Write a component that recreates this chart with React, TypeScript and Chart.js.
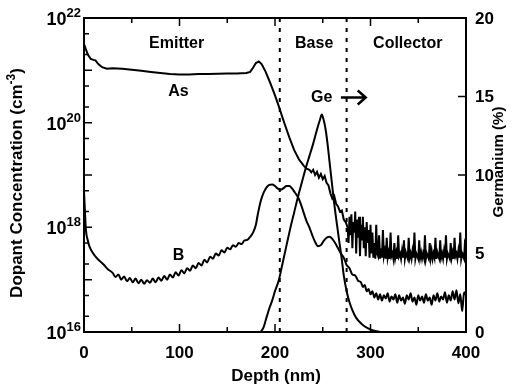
import React, { useEffect, useRef } from "react";
import { Chart, registerables } from "chart.js";

Chart.register(...registerables);

// ---- Data (depth in nm) ----
// Arsenic: log10 of concentration (cm^-3)
const asDepth = [
  0, 2, 4, 7, 10, 12, 15, 19, 24, 30, 40, 50, 60, 70, 80, 90, 100, 110, 120, 130,
  140, 150, 160, 170, 174, 177, 180, 183, 186, 190, 195, 200, 204, 210, 215, 220, 225, 230, 233, 236,
  238, 240, 242, 244, 246, 248, 250, 252, 254, 256, 258, 260, 262, 264, 266, 268, 270, 272, 274, 275,
  276, 277, 278, 279, 280, 281, 282, 283, 284, 285, 286, 287, 288, 289, 290, 291, 292, 293, 294, 295, 296, 297, 298, 299, 300,
  301, 302, 303, 304, 305, 306, 307, 308, 309, 310, 311, 312, 313, 314, 315, 316, 317, 318, 319, 320, 321, 322, 323, 324, 325,
  326, 327, 328, 329, 330, 331, 332, 333, 334, 335, 336, 337, 338, 339, 340, 341, 342, 343, 344, 345, 346, 347, 348, 349, 350,
  351, 352, 353, 354, 355, 356, 357, 358, 359, 360, 361, 362, 363, 364, 365, 366, 367, 368, 369, 370, 371, 372, 373, 374, 375,
  376, 377, 378, 379, 380, 381, 382, 383, 384, 385, 386, 387, 388, 389, 390, 391, 392, 393, 394, 395, 396, 397, 398, 399, 400,
];
const asLogConc = [
  21.5, 21.4, 21.3, 21.22, 21.2, 21.19, 21.12, 21.06, 21.03, 21.04, 21.03, 21.01, 20.99, 20.97, 20.95, 20.93, 20.92, 20.92, 20.93, 20.93,
  20.935, 20.94, 20.94, 20.95, 20.97, 21.05, 21.14, 21.17, 21.12, 20.98, 20.76, 20.52, 20.31, 19.98, 19.72, 19.48, 19.3, 19.18, 19.12, 19.1,
  19.05, 19.1, 19.0, 19.06, 18.95, 19.02, 18.92, 18.98, 18.85, 18.8, 18.65, 18.55, 18.6, 18.45, 18.4, 18.3, 18.32, 18.15, 18.1, 18.05,
  18.0, 17.7, 18.2, 17.85, 18.25, 17.6, 18.1, 17.9, 18.3, 17.5, 18.15, 17.8, 18.2, 17.45, 18.05, 17.75, 18.2, 17.6, 18.0, 17.45, 18.1, 17.7, 17.95, 17.42, 18.05,
  17.5, 17.9, 17.42, 17.7, 17.4, 18.05, 17.5, 17.45, 17.85, 17.4, 17.6, 17.42, 17.95, 17.45, 17.55, 17.4, 17.8, 17.42, 17.52, 17.4, 17.9, 17.45, 17.5, 17.4, 17.7,
  17.42, 17.52, 17.4, 17.85, 17.45, 17.5, 17.4, 17.55, 17.42, 17.75, 17.4, 17.52, 17.45, 17.4, 17.8, 17.42, 17.5, 17.4, 17.55, 17.42, 17.9, 17.4, 17.5, 17.45, 17.4,
  17.75, 17.42, 17.52, 17.4, 17.5, 17.42, 17.85, 17.4, 17.5, 17.45, 17.4, 17.7, 17.42, 17.55, 17.4, 17.5, 17.42, 17.8, 17.4, 17.52, 17.45, 17.4, 17.75, 17.42, 17.5,
  17.4, 17.55, 17.42, 17.85, 17.4, 17.5, 17.45, 17.4, 17.7, 17.42, 17.52, 17.4, 17.8, 17.45, 17.5, 17.4, 17.55, 17.42, 17.9, 17.4, 17.5, 17.45, 17.4, 17.75, 17.8,
];

// Boron: log10 of concentration (cm^-3)
const bDepth = [
  0, 1, 2, 4, 6, 9, 13, 17, 21, 25,
  30, 33, 36, 39, 42, 45, 48, 51, 54, 57, 60, 63, 66, 69, 72, 75, 78, 81, 84, 87,
  90, 93, 96, 99, 102, 105, 108, 111, 114, 117, 120, 123, 126, 129, 132, 135, 138, 141, 144, 147,
  150, 153, 156, 159, 162, 165, 168, 171, 174, 177,
  180, 182, 185, 188, 191, 194, 197, 200, 203, 206, 209, 212, 215, 218, 221, 224, 227, 230, 233, 236,
  239, 242, 245, 248, 251, 254, 257, 260, 263, 266, 269, 272, 275, 278, 281, 284, 287,
  290, 292, 294, 296, 298, 300, 302, 304, 306, 308, 310, 312, 314, 316, 318, 320, 322, 324, 326, 328,
  330, 332, 334, 336, 338, 340, 342, 344, 346, 348, 350, 352, 354, 356, 358, 360, 362, 364, 366, 368,
  370, 372, 374, 376, 378, 380, 382, 384, 386, 388, 390, 392, 394, 396, 398, 400,
];
const bLogConc = [
  18.7, 18.3, 17.95, 17.75, 17.62, 17.52, 17.42, 17.35, 17.28, 17.2,
  17.13, 17.05, 17.1, 17.0, 17.06, 16.97, 17.03, 16.95, 17.02, 16.93, 17.0, 16.92, 16.99, 16.94, 17.02, 16.95, 17.04, 16.98, 17.07, 17.0,
  17.1, 17.04, 17.14, 17.08, 17.18, 17.12, 17.22, 17.17, 17.27, 17.22, 17.32, 17.27, 17.38, 17.33, 17.44, 17.4, 17.5, 17.46, 17.56, 17.52,
  17.61, 17.58, 17.66, 17.63, 17.7, 17.68, 17.75, 17.76, 17.82, 17.9,
  18.05, 18.25, 18.5, 18.66, 18.76, 18.81, 18.82, 18.79, 18.74, 18.72, 18.75, 18.79, 18.79, 18.74, 18.66, 18.58, 18.45, 18.28, 18.12, 18.0,
  17.85, 17.72, 17.64, 17.66, 17.74, 17.8, 17.82, 17.78, 17.7, 17.6, 17.5, 17.42, 17.28, 17.22, 17.1, 17.08, 16.98,
  16.95, 16.86, 16.9, 16.78, 16.82, 16.72, 16.78, 16.66, 16.74, 16.62, 16.72, 16.6, 16.7, 16.64, 16.74, 16.58, 16.68, 16.62, 16.72, 16.56,
  16.7, 16.6, 16.66, 16.54, 16.7, 16.62, 16.74, 16.58, 16.66, 16.52, 16.7, 16.6, 16.68, 16.56, 16.72, 16.6, 16.66, 16.52, 16.7, 16.6,
  16.74, 16.58, 16.68, 16.62, 16.76, 16.56, 16.7, 16.6, 16.78, 16.62, 16.8, 16.55, 16.72, 16.4, 16.76, 16.7,
];

// Germanium (%)
const geDepth = [
  185, 188, 191, 194, 197, 200, 204, 208, 212, 216, 220, 224, 228, 232, 236, 240, 244, 247, 249, 251,
  253, 255, 257, 259, 261, 263, 265, 267, 270, 272, 275, 278, 281, 285, 291, 297, 303, 310,
];
const gePct = [
  0, 0.3, 0.9, 1.5, 2.0, 2.6, 3.3, 4.4, 5.5, 6.6, 7.6, 8.6, 9.5, 10.4, 11.2, 12.0, 12.9, 13.5, 13.85, 13.5,
  12.9, 12.0, 10.9, 9.8, 8.7, 7.7, 6.8, 5.9, 4.6, 3.6, 2.6, 1.9, 1.4, 0.9, 0.5, 0.25, 0.1, 0,
];

// Region boundaries (dashed lines)
const junctionDepths = [205, 275];

// Axes ticks / labels
const depthTicks = [0, 100, 200, 300, 400];
const depthMinorTicks = [50, 150, 250, 350];
const concDecades = [16, 17, 18, 19, 20, 21, 22];
const concMinorMantissas = [2, 5];
const concLabelExps = [16, 18, 20, 22];
const geTicks = [0, 5, 10, 15, 20];

const FAMILY = '"Liberation Sans", Arial, Helvetica, sans-serif';
const bold = (s: number) => `bold ${s}px ${FAMILY}`;

const overlay = {
  id: "overlay",
  beforeDraw(chart: any) {
    const c = chart.ctx;
    c.save();
    c.fillStyle = "#fff";
    c.fillRect(0, 0, chart.width, chart.height);
    c.restore();
  },
  afterDraw(chart: any) {
    const { ctx, chartArea: a } = chart;
    const sx = chart.scales.x;
    const sy = chart.scales.y;
    const sy2 = chart.scales.y2;
    ctx.save();
    ctx.strokeStyle = "#000";
    ctx.fillStyle = "#000";

    // inward tick marks
    ctx.lineWidth = 1.5;
    ctx.beginPath();
    for (const d of depthTicks) {
      const px = sx.getPixelForValue(d);
      ctx.moveTo(px, a.bottom); ctx.lineTo(px, a.bottom - 8);
      ctx.moveTo(px, a.top); ctx.lineTo(px, a.top + 8);
    }
    for (const d of depthMinorTicks) {
      const px = sx.getPixelForValue(d);
      ctx.moveTo(px, a.bottom); ctx.lineTo(px, a.bottom - 5);
      ctx.moveTo(px, a.top); ctx.lineTo(px, a.top + 5);
    }
    for (const e of concDecades) {
      const py = sy.getPixelForValue(Math.pow(10, e));
      ctx.moveTo(a.left, py); ctx.lineTo(a.left + 8, py);
      if (e < 22) {
        for (const m of concMinorMantissas) {
          const pm = sy.getPixelForValue(m * Math.pow(10, e));
          ctx.moveTo(a.left, pm); ctx.lineTo(a.left + 5, pm);
        }
      }
    }
    for (const g of geTicks) {
      const py = sy2.getPixelForValue(g);
      ctx.moveTo(a.right, py); ctx.lineTo(a.right - 8, py);
    }
    ctx.stroke();

    // frame
    ctx.lineWidth = 2;
    ctx.strokeRect(a.left, a.top, a.right - a.left, a.bottom - a.top);

    // x tick labels
    ctx.font = bold(17);
    ctx.textAlign = "center";
    ctx.textBaseline = "alphabetic";
    for (const d of depthTicks) {
      ctx.fillText(String(d), sx.getPixelForValue(d), a.bottom + 26);
    }
    // right tick labels
    ctx.textAlign = "left";
    ctx.textBaseline = "middle";
    for (const g of geTicks) {
      ctx.fillText(String(g), a.right + 9, sy2.getPixelForValue(g) + 1);
    }
    // left tick labels 10^n
    for (const e of concLabelExps) {
      const py = sy.getPixelForValue(Math.pow(10, e));
      const exp = String(e);
      ctx.font = bold(13);
      const ew = ctx.measureText(exp).width;
      const right = a.left - 3;
      ctx.textAlign = "left";
      ctx.textBaseline = "alphabetic";
      ctx.fillText(exp, right - ew, py - 1);
      ctx.font = bold(18);
      ctx.textAlign = "right";
      ctx.fillText("10", right - ew, py + 7);
    }

    // x title
    ctx.font = bold(17);
    ctx.textAlign = "center";
    ctx.textBaseline = "alphabetic";
    ctx.fillText("Depth (nm)", (a.left + a.right) / 2 + 1, 381);

    // left title (rotated)
    ctx.save();
    ctx.translate(22, 183);
    ctx.rotate(-Math.PI / 2);
    const t1 = "Dopant Concentration (cm";
    const t2 = "-3";
    const t3 = ")";
    ctx.font = bold(17);
    const w1 = ctx.measureText(t1).width;
    const w3 = ctx.measureText(t3).width;
    ctx.font = bold(12);
    const w2 = ctx.measureText(t2).width;
    const total = w1 + w2 + w3;
    let cx = -total / 2;
    ctx.textAlign = "left";
    ctx.textBaseline = "alphabetic";
    ctx.font = bold(17);
    ctx.fillText(t1, cx, 0);
    cx += w1;
    ctx.font = bold(12);
    ctx.fillText(t2, cx, -7);
    cx += w2;
    ctx.font = bold(17);
    ctx.fillText(t3, cx, 0);
    ctx.restore();

    // right title (rotated)
    ctx.save();
    ctx.translate(503, 162);
    ctx.rotate(-Math.PI / 2);
    ctx.font = bold(15);
    ctx.textAlign = "center";
    ctx.textBaseline = "alphabetic";
    ctx.fillText("Germanium (%)", 0, 0);
    ctx.restore();

    // annotations (data coordinates)
    const lbl = (text: string, depth: number, logc: number) => {
      ctx.fillText(text, sx.getPixelForValue(depth), sy.getPixelForValue(Math.pow(10, logc)));
    };
    ctx.font = bold(16);
    ctx.textAlign = "center";
    ctx.textBaseline = "middle";
    lbl("Emitter", 97, 21.52);
    lbl("Base", 241, 21.52);
    lbl("Collector", 339, 21.52);
    lbl("As", 99, 20.59);
    lbl("B", 99, 17.46);
    lbl("Ge", 249, 20.47);

    // arrow after Ge
    const ay = sy.getPixelForValue(Math.pow(10, 20.48));
    const ax0 = sx.getPixelForValue(269);
    const ax1 = sx.getPixelForValue(295);
    ctx.lineWidth = 2.5;
    ctx.beginPath();
    ctx.moveTo(ax0, ay); ctx.lineTo(ax1, ay);
    ctx.moveTo(ax1 - 8, ay - 7); ctx.lineTo(ax1, ay); ctx.lineTo(ax1 - 8, ay + 7);
    ctx.stroke();

    ctx.restore();
  },
};

export default function App() {
  const ref = useRef<HTMLCanvasElement>(null);
  useEffect(() => {
    const canvas = ref.current;
    if (!canvas) return;
    const line = (xs: number[], ys: number[], conv: (v: number) => number) =>
      xs.map((x, i) => ({ x, y: conv(ys[i]) }));
    const pow10 = (v: number) => Math.pow(10, v);
    const ident = (v: number) => v;
    const dashSets = junctionDepths.map((d) => ({
      data: [{ x: d, y: 1e16 }, { x: d, y: 1e22 }],
      borderColor: "#000",
      borderWidth: 2,
      borderDash: [4, 6],
      yAxisID: "y",
      pointRadius: 0,
    }));
    const chart = new Chart(canvas, {
      type: "line",
      data: {
        datasets: [
          {
            data: line(asDepth, asLogConc, pow10),
            borderColor: "#000",
            borderWidth: 2,
            yAxisID: "y",
            pointRadius: 0,
            tension: 0,
          },
          {
            data: line(bDepth, bLogConc, pow10),
            borderColor: "#000",
            borderWidth: 2,
            yAxisID: "y",
            pointRadius: 0,
            cubicInterpolationMode: "monotone",
          },
          {
            data: line(geDepth, gePct, ident),
            borderColor: "#000",
            borderWidth: 2,
            yAxisID: "y2",
            pointRadius: 0,
            cubicInterpolationMode: "monotone",
          },
          ...dashSets,
        ] as any,
      },
      options: {
        responsive: false,
        animation: false,
        devicePixelRatio: 1,
        layout: { padding: { top: 18, left: 0, right: 0, bottom: 0 } },
        plugins: { legend: { display: false }, tooltip: { enabled: false } },
        scales: {
          x: {
            type: "linear",
            min: 0,
            max: 400,
            grid: { display: false },
            border: { display: false },
            ticks: { display: false },
            afterFit: (s: any) => { s.height = 54; },
          },
          y: {
            type: "logarithmic",
            position: "left",
            min: 1e16,
            max: 1e22,
            grid: { display: false },
            border: { display: false },
            ticks: { display: false },
            afterFit: (s: any) => { s.width = 84; },
          },
          y2: {
            type: "linear",
            position: "right",
            min: 0,
            max: 20,
            grid: { display: false },
            border: { display: false },
            ticks: { display: false },
            afterFit: (s: any) => { s.width = 59; },
          },
        },
      } as any,
      plugins: [overlay],
    });
    return () => chart.destroy();
  }, []);
  return (
    <div style={{ position: "fixed", left: 0, top: 0, width: 525, height: 386, background: "#fff" }}>
      <canvas ref={ref} width={525} height={386} style={{ display: "block" }} />
    </div>
  );
}
